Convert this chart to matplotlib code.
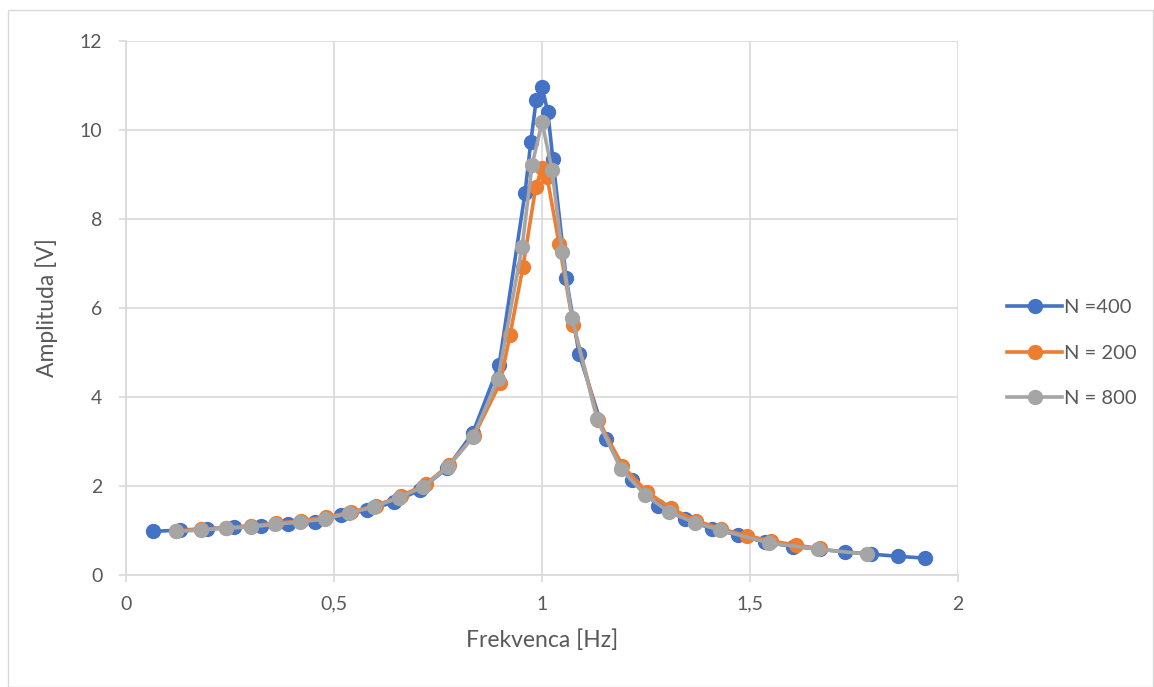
import matplotlib
matplotlib.use("Agg")
from matplotlib import pyplot as plt
from matplotlib.patches import Rectangle

###--- Data ---###
f_400=[0.065,0.13,0.195,0.26,0.325,0.39,0.455,0.517,0.58,0.645,0.707,0.772,0.834,0.897,
       0.959,0.973,0.986,1.0,1.014,1.026,1.058,1.089,1.154,1.216,1.279,1.344,1.409,1.471,
       1.536,1.603,1.667,1.728,1.79,1.856,1.92]
a_400=[0.98,1.01,1.04,1.07,1.11,1.14,1.2,1.34,1.46,1.64,1.92,2.4,3.2,4.73,
       8.58,9.73,10.68,10.97,10.4,9.35,6.67,4.97,3.05,2.13,1.56,1.25,1.04,0.9,
       0.74,0.64,0.58,0.52,0.47,0.42,0.38]

f_200=[0.12,0.18,0.24,0.30,0.36,0.42,0.48,0.54,0.60,0.66,0.72,0.776,0.836,0.899,0.923,
       0.954,0.985,1.0,1.012,1.041,1.075,1.135,1.193,1.252,1.31,1.37,1.43,1.493,1.55,1.61,1.667]
a_200=[0.99,1.03,1.06,1.11,1.16,1.22,1.3,1.41,1.56,1.77,2.04,2.47,3.12,4.31,5.39,
       6.92,8.72,9.15,8.95,7.44,5.62,3.48,2.46,1.87,1.5,1.22,1.04,0.88,0.77,0.67,0.6]

f_800=[0.12,0.18,0.24,0.30,0.358,0.418,0.478,0.536,0.596,0.656,0.714,0.774,0.834,0.894,
       0.952,0.976,1.0,1.024,1.048,1.072,1.132,1.19,1.248,1.305,1.368,1.428,1.546,1.664,1.78]
a_800=[0.98,1.01,1.05,1.08,1.14,1.19,1.26,1.39,1.53,1.74,1.98,2.43,3.1,4.4,
       7.37,9.21,10.18,9.1,7.26,5.78,3.5,2.38,1.8,1.42,1.17,1.01,0.72,0.58,0.47]

xticks=[0,0.5,1,1.5,2]
xlabels=["0","0,5","1","1,5","2"]
yticks=[0,2,4,6,8,10,12]

###--- Plot ---###
plt.rcParams['font.family']=['Lato','DejaVu Sans']
txt='#595959'
grid='#D9D9D9'

fig=plt.figure(figsize=(11.54,6.87),dpi=100)
fig.patches.append(Rectangle((0.007,0.0),0.992,0.985,transform=fig.transFigure,
                             fill=False,edgecolor=grid,linewidth=1))
ax=fig.add_axes([0.1092,0.163,0.721,0.7773])

ax.plot(f_400,a_400,'-o',color='#4472C4',lw=2.6,ms=10,label='N =400',zorder=3)
ax.plot(f_200,a_200,'-o',color='#ED7D31',lw=2.6,ms=10,label='N = 200',zorder=4)
ax.plot(f_800,a_800,'-o',color='#A5A5A5',lw=2.6,ms=10,label='N = 800',zorder=5)

ax.set_xlim(0,2)
ax.set_ylim(0,12)
ax.set_xticks(xticks)
ax.set_xticklabels(xlabels)
ax.set_yticks(yticks)
ax.grid(True,color=grid,lw=1.2)
ax.set_axisbelow(True)
for s in ax.spines.values():
    s.set_visible(False)
ax.spines['left'].set_visible(True)
ax.spines['bottom'].set_visible(True)
ax.spines['left'].set_color(grid)
ax.spines['bottom'].set_color(grid)
ax.spines['left'].set_linewidth(1.2)
ax.spines['bottom'].set_linewidth(1.2)
ax.tick_params(axis='both',colors=grid,labelcolor=txt,labelsize=14,length=5,width=1.2)
ax.tick_params(axis='x',pad=10)
ax.tick_params(axis='y',pad=12)

ax.set_xlabel("Frekvenca [Hz]",fontsize=16.5,color=txt,labelpad=12)
ax.set_ylabel("Amplituda [V]",fontsize=16.5,color=txt,labelpad=16)

leg=fig.legend(loc='center left',bbox_to_anchor=(0.857,0.486),frameon=False,
               fontsize=14.5,handlelength=2.75,labelspacing=1.4,handletextpad=0.1)
for t in leg.get_texts():
    t.set_color(txt)

plt.savefig("out.png",dpi=100)
